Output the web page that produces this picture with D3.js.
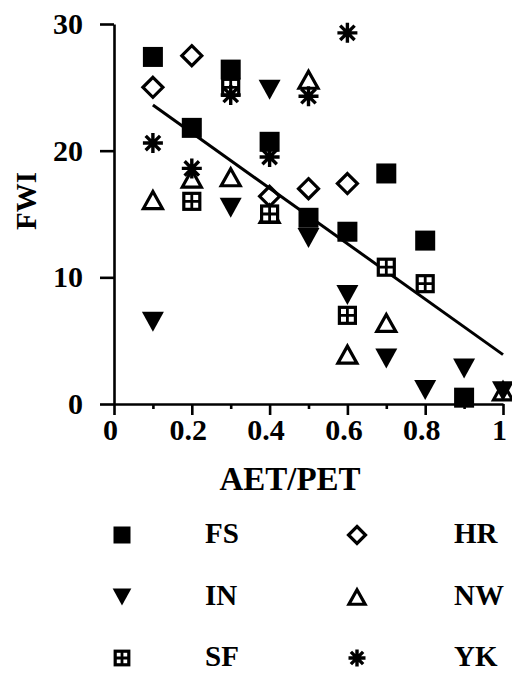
<!DOCTYPE html>
<html><head><meta charset="utf-8">
<script src="https://cdn.jsdelivr.net/npm/d3@7"></script>
<style>
html,body{margin:0;padding:0;background:#fff;}
svg{display:block;}
text{font-family:"Liberation Serif","Times New Roman",serif;font-weight:bold;fill:#000;}
</style></head><body>
<svg id="chart" width="512" height="676"></svg>
<script>
// ---- data ----
const seriesNames = ["FS","HR","IN","NW","SF","YK"];
const fsData = [[0.1,27.4],[0.2,21.8],[0.3,26.4],[0.4,20.7],[0.5,14.7],[0.6,13.6],[0.7,18.2],[0.8,12.9],[0.9,0.5]];
const hrData = [[0.1,25.0],[0.2,27.5],[0.4,16.4],[0.5,17.0],[0.6,17.4]];
const inData = [[0.1,6.5],[0.3,15.5],[0.4,24.8],[0.5,13.1],[0.6,8.6],[0.7,3.6],[0.8,1.1],[0.9,2.8],[1.0,1.0]];
const nwData = [[0.1,16.1],[0.2,17.8],[0.3,17.9],[0.4,15.0],[0.5,25.6],[0.6,3.9],[0.7,6.4],[1.0,1.0]];
const sfData = [[0.2,16.0],[0.3,25.0],[0.4,15.0],[0.6,7.0],[0.7,10.8],[0.8,9.5]];
const ykData = [[0.1,20.6],[0.2,18.6],[0.3,24.4],[0.4,19.5],[0.5,24.3],[0.6,29.3]];
const fitLine = [[0.1,23.6],[1.0,3.9]];
const xMajorTicks = [0,0.2,0.4,0.6,0.8,1];
const xMinorTicks = [0.1,0.3,0.5,0.7,0.9];
const yTicks = [0,10,20,30];
const xTitle = "AET/PET";
const yTitle = "FWI";

const seriesData = {FS:fsData, HR:hrData, IN:inData, NW:nwData, SF:sfData, YK:ykData};
const seriesShape = {FS:"square", HR:"diamond", IN:"tridown", NW:"triup", SF:"boxcross", YK:"star"};

// ---- layout ----
const svg = d3.select("#chart");
const x = d3.scaleLinear().domain([0,1]).range([114,503]);
const y = d3.scaleLinear().domain([0,30]).range([404,24]);

// axes
const yAxis = svg.append("g").attr("transform","translate(114,0)")
  .call(d3.axisLeft(y).tickValues(yTicks).tickSize(14).tickSizeOuter(0).tickPadding(17).tickFormat(d3.format("d")));
const xAxis = svg.append("g").attr("transform","translate(0,404)")
  .call(d3.axisBottom(x).tickValues(xMajorTicks).tickSize(11).tickSizeOuter(0).tickPadding(4)
    .tickFormat(d => (d===0||d===1) ? String(d) : d.toFixed(1)));
const xMinor = svg.append("g").attr("transform","translate(0,404)")
  .call(d3.axisBottom(x).tickValues(xMinorTicks).tickSize(5).tickSizeOuter(0).tickFormat(""));
xMinor.select(".domain").remove();
[yAxis,xAxis,xMinor].forEach(g=>{
  g.selectAll("path,line").attr("stroke","#000").attr("stroke-width",2.6);
  g.selectAll("text").attr("font-family","Liberation Serif, serif").attr("font-weight","bold").attr("font-size",30).attr("fill","#000");
});
xAxis.selectAll("text").attr("dx",-4);

svg.append("text").attr("x",290).attr("y",490).attr("text-anchor","middle").attr("font-size",33).text(xTitle);
svg.append("text").attr("transform","translate(36,201) rotate(-90)").attr("text-anchor","middle").attr("font-size",29).text(yTitle);

// regression line
svg.append("path").datum(fitLine)
  .attr("d", d3.line().x(d=>x(d[0])).y(d=>y(d[1])))
  .attr("stroke","#000").attr("stroke-width",3).attr("fill","none");

// marker drawer
function drawMarker(g, shape, s){
  if(shape==="square"){
    g.append("rect").attr("x",-10*s).attr("y",-10*s).attr("width",20*s).attr("height",20*s).attr("fill","#000");
  } else if(shape==="diamond"){
    const r=10*s;
    g.append("path").attr("d",`M0,${-r}L${r},0L0,${r}L${-r},0Z`).attr("fill","none").attr("stroke","#000").attr("stroke-width",3.2);
  } else if(shape==="tridown"){
    const w=11*s,h=20*s;
    g.append("path").attr("d",`M${-w},${-h/2}L${w},${-h/2}L0,${h/2}Z`).attr("fill","#000");
  } else if(shape==="triup"){
    const w=9.5*s,h=17*s;
    g.append("path").attr("d",`M0,${-h/2}L${w},${h/2}L${-w},${h/2}Z`).attr("fill","none").attr("stroke","#000").attr("stroke-width",3.2).attr("stroke-linejoin","miter");
  } else if(shape==="boxcross"){
    const r=8*s;
    g.append("rect").attr("x",-r).attr("y",-r).attr("width",2*r).attr("height",2*r).attr("fill","#fff").attr("stroke","#000").attr("stroke-width",3.2);
    g.append("path").attr("d",`M${-r},0H${r}M0,${-r}V${r}`).attr("stroke","#000").attr("stroke-width",2.8);
  } else if(shape==="star"){
    const r=10*s, d=r*0.72;
    g.append("path").attr("d",`M${-r},0H${r}M0,${-r}V${r}M${-d},${-d}L${d},${d}M${-d},${d}L${d},${-d}`)
      .attr("stroke","#000").attr("stroke-width",3.4).attr("fill","none");
  }
}

// points
seriesNames.forEach(name=>{
  const grp = svg.append("g").attr("class","series-"+name);
  seriesData[name].forEach(p=>{
    const g = grp.append("g").attr("transform",`translate(${x(p[0])},${y(p[1])})`);
    drawMarker(g, seriesShape[name], 1);
  });
});

// legend
const legendColX = [122,357];
const legendTextX = [205,454];
const legendRowY = [535,597,658];
seriesNames.forEach((name,i)=>{
  const col = i%2, row = Math.floor(i/2);
  const g = svg.append("g").attr("transform",`translate(${legendColX[col]},${legendRowY[row]})`);
  drawMarker(g, seriesShape[name], 0.85);
  svg.append("text").attr("x",legendTextX[col]).attr("y",legendRowY[row]+8).attr("font-size",29).text(name);
});
</script>
</body></html>
